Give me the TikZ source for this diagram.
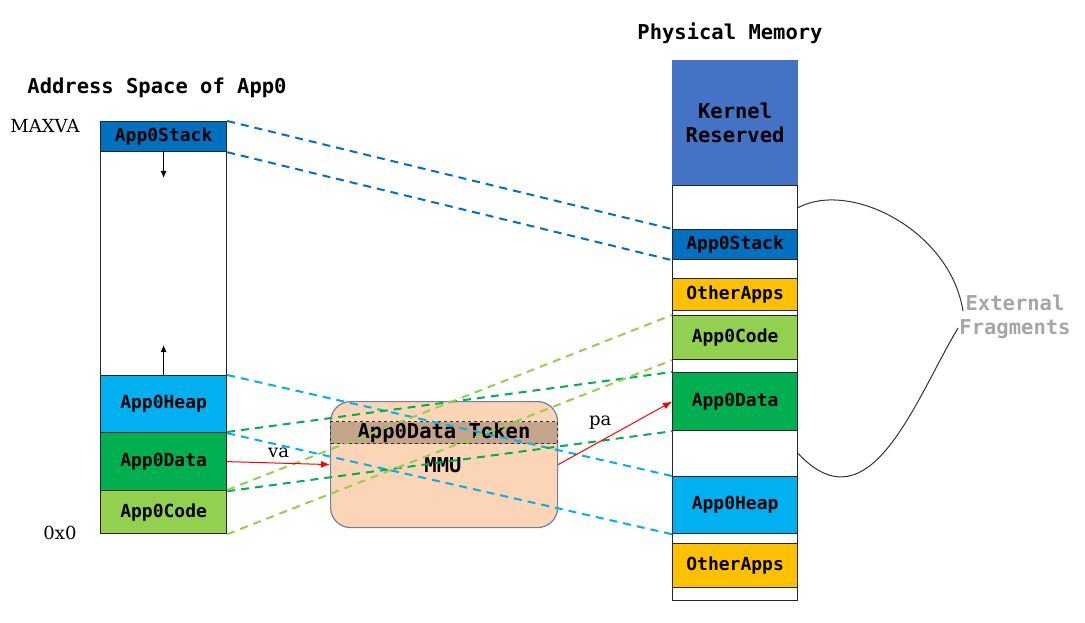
\documentclass[tikz,border=0pt]{standalone}
\usepackage{fontspec}
\setmainfont{DejaVu Serif}
\setmonofont{DejaVu Sans Mono}
\usetikzlibrary{arrows,arrows.meta}
\definecolor{kernblue}{RGB}{68,114,196}
\definecolor{stackblue}{RGB}{0,112,192}
\definecolor{heapblue}{RGB}{0,176,240}
\definecolor{datagreen}{RGB}{0,176,80}
\definecolor{codegreen}{RGB}{146,208,80}
\definecolor{otheryellow}{RGB}{255,192,0}
\definecolor{mmupeach}{RGB}{251,213,181}
\definecolor{tokenbrown}{RGB}{196,164,140}
\definecolor{mmuborder}{RGB}{110,128,165}
\definecolor{fraggray}{RGB}{166,166,166}

\tikzset{
seg/.style={draw=black!85, line width=1.2pt, inner sep=0pt, anchor=north west, font=\ttfamily\bfseries\fontsize{18}{20}\selectfont},
vseg/.style={seg, minimum width=126pt},
pseg/.style={seg, minimum width=125pt},
map/.style={line width=2pt, dash pattern=on 8pt off 6pt},
title/.style={font=\ttfamily\bfseries\fontsize{20.5}{24}\selectfont},
addr/.style={font=\fontsize{18}{20}\selectfont},
}

\begin{document}
\begin{tikzpicture}[x=1pt,y=-1pt]
\useasboundingbox (0,0) rectangle (1085,623);

%Address space of App0:
\node[title] (vtitle) at (157,88) {Address Space of App0};
\node[addr] (maxva) at (45,126) {MAXVA};
\node[addr] (zero) at (60,533) {0x0};
\node[vseg, fill=stackblue, minimum height=30pt] (vstack) at (100,121) {App0Stack};
\node[vseg, fill=white, minimum height=224pt] (vfree) at (100,151) {};
\node[vseg, fill=heapblue, minimum height=57pt] (vheap) at (100,375) {App0Heap};
\node[vseg, fill=datagreen, minimum height=58pt] (vdata) at (100,432) {App0Data};
\node[vseg, fill=codegreen, minimum height=43pt] (vcode) at (100,490) {App0Code};
\draw[-{Latex[length=7pt,width=6pt]}, line width=1pt] (vfree.north) -- ++(0,27);
\draw[-{Latex[length=7pt,width=6pt]}, line width=1pt] (vheap.north) -- ++(0,-30);

%Physical memory:
\node[title] (ptitle) at (730,33) {Physical Memory};
\node[pseg, fill=kernblue, draw=kernblue, minimum height=125pt, align=center, font=\ttfamily\bfseries\fontsize{20.5}{24}\selectfont] (pkern) at (672,60) {Kernel\\Reserved};
\node[pseg, fill=white, minimum height=44pt] (pf1) at (672,185) {};
\node[pseg, fill=stackblue, minimum height=30pt] (pstack) at (672,229) {App0Stack};
\node[pseg, fill=white, minimum height=19pt] (pf2) at (672,259) {};
\node[pseg, fill=otheryellow, minimum height=32pt] (pother1) at (672,278) {OtherApps};
\node[pseg, fill=white, minimum height=5pt] (pf3) at (672,310) {};
\node[pseg, fill=codegreen, minimum height=44pt] (pcode) at (672,315) {App0Code};
\node[pseg, fill=white, minimum height=13pt] (pf4) at (672,359) {};
\node[pseg, fill=datagreen, minimum height=58pt] (pdata) at (672,372) {App0Data};
\node[pseg, fill=white, minimum height=46pt] (pf5) at (672,430) {};
\node[pseg, fill=heapblue, minimum height=57pt] (pheap) at (672,476) {App0Heap};
\node[pseg, fill=white, minimum height=10pt] (pf6) at (672,533) {};
\node[pseg, fill=otheryellow, minimum height=44pt] (pother2) at (672,543) {OtherApps};
\node[pseg, fill=white, minimum height=13pt] (pf7) at (672,587) {};

%The MMU:
\node[draw=mmuborder, line width=1.2pt, fill=mmupeach, rounded corners=20pt, minimum width=227pt, minimum height=126pt, anchor=north west] (mmu) at (330,401) {};
\node[draw=black!80, dashed, line width=1pt, fill=tokenbrown, inner sep=0pt, minimum width=227pt, minimum height=22pt, anchor=north west, title] (token) at (330,421) {App0Data Token};
\node[title] (mmulbl) at (443,465) {MMU};

%Mappings:
\draw[map, stackblue] (vstack.north east) -- (pstack.north west);
\draw[map, stackblue] (vstack.south east) -- (pstack.south west);
\draw[map, heapblue] (vheap.north east) -- (pheap.north west);
\draw[map, heapblue] (vheap.south east) -- (pheap.south west);
\draw[map, datagreen] (vdata.north east) -- (pdata.north west);
\draw[map, datagreen] (vdata.south east) -- (pdata.south west);
\draw[map, codegreen] (vcode.north east) -- (pcode.north west);
\draw[map, codegreen] (vcode.south east) -- (pcode.south west);

\draw[-{Latex[length=9pt,width=7pt]}, red, line width=1pt] (vdata.east) -- (mmu.west) node[midway, above=2pt, addr, text=black] {va};
\draw[-{Latex[length=9pt,width=7pt]}, red, line width=1pt] (mmu.east) -- (pdata.west) node[midway, above left=0pt, addr, text=black] {pa};

%External fragments:
\node[title, text=fraggray, align=center] (frag) at (1015,317) {External\\Fragments};
\coordinate (fragtop) at (963,311);
\coordinate (fragbot) at (958,328);
\draw[black!80, line width=1pt] (pf1.east) .. controls (850,180) and (950,230) .. (fragtop);
\draw[black!80, line width=1pt] (fragbot) .. controls (915,400) and (870,530) .. (pf5.east);
\end{tikzpicture}
\end{document}
